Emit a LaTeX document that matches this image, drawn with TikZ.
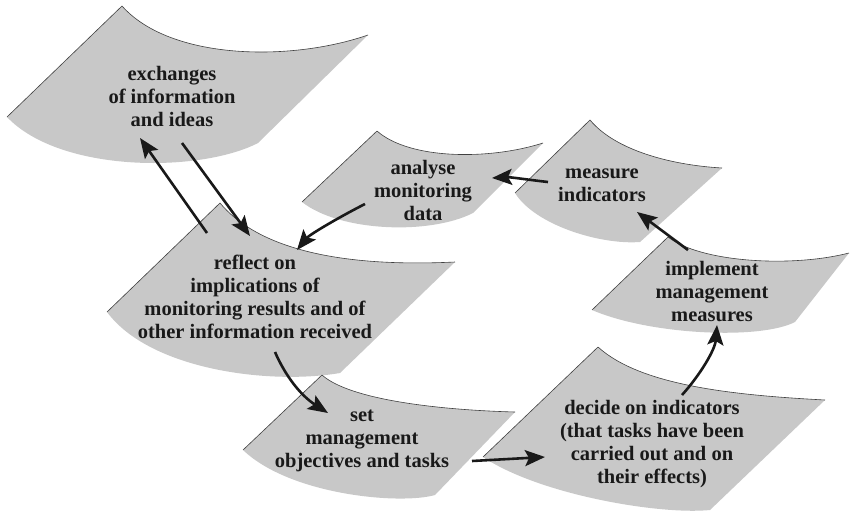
\documentclass[tikz,border=0pt]{standalone}
\usepackage{fontspec}
\setmainfont{Liberation Serif}
\usetikzlibrary{arrows.meta}
\definecolor{sheetgray}{RGB}{200,200,200}
\definecolor{inkc}{RGB}{25,25,25}
\newcommand{\papersheet}[8]{%
  \fill[sheetfill] (#1) .. controls (#2) and (#3) .. (#4) -- (#5) .. controls (#6) and (#7) .. (#8) -- cycle;
  \draw[sheetedge] (#8) -- (#1) .. controls (#2) and (#3) .. (#4);
}
\tikzset{
  sheetfill/.style={fill=sheetgray},
  sheetedge/.style={draw=black!75, line width=0.6pt, line join=round},
  label/.style={align=center, inner sep=0pt, text=inkc, font=\bfseries\fontsize{20.5}{23}\selectfont},
  flow/.style={draw=inkc, line width=2.6pt, -{Stealth[length=20pt, width=16pt, inset=4pt]}}
}
\begin{document}
\begin{tikzpicture}[x=1pt, y=-1pt]
\useasboundingbox (0,0) rectangle (851,512);
% sheets
\papersheet{122,6}{170,60}{290,62}{368,35}{258,143}{200,173}{60,173}{7,117}
\papersheet{377,131}{410,160}{490,160}{543,143}{473,213}{430,235}{340,232}{302,202}
\papersheet{590,120}{615,150}{670,165}{722,168}{640,242}{600,245}{535,225}{515,193}
\papersheet{668,237}{700,262}{790,268}{849,253}{795,322}{760,340}{650,335}{592,310}
\papersheet{220,203}{255,245}{330,268}{455,262}{340,373}{270,385}{150,370}{107,312}
\papersheet{322,375}{350,400}{440,410}{515,412}{435,495}{400,505}{290,495}{243,450}
\papersheet{598,347}{640,385}{730,395}{825,400}{710,510}{660,515}{540,495}{483,457}
% labels
\node[label] (exch) at (172,96) {exchanges\\of information\\and ideas};
\node[label] (anal) at (423,190) {analyse\\monitoring\\data};
\node[label] (meas) at (602,185) {measure\\indicators};
\node[label] (impl) at (712,292) {implement\\management\\measures};
\node[label] (refl) at (255,297) {reflect on\\implications of\\monitoring results and of\\other information received};
\node[label] (setm) at (362,441) {set\\management\\objectives and tasks};
\node[label] (deci) at (652,444) {decide on indicators\\(that tasks have been\\carried out and on\\their effects)};
% arrow ends
\coordinate (r2e-s) at (207,233); \coordinate (r2e-t) at (140,138);
\coordinate (e2r-s) at (182,143); \coordinate (e2r-t) at (250,236);
\coordinate (a2r-s) at (365,204); \coordinate (a2r-t) at (297,250);
\coordinate (m2a-s) at (548,182); \coordinate (m2a-t) at (492,178);
\coordinate (i2m-s) at (688,250); \coordinate (i2m-t) at (637,212);
\coordinate (d2i-s) at (682,395); \coordinate (d2i-t) at (717,325);
\coordinate (s2d-s) at (472,461); \coordinate (s2d-t) at (545,457);
\coordinate (r2s-s) at (275,352); \coordinate (r2s-t) at (328,413);
% connectors
\draw[flow] (r2e-s) -- (r2e-t);
\draw[flow] (e2r-s) -- (e2r-t);
\draw[flow] (a2r-s) .. controls (345,214) and (310,234) .. (a2r-t);
\draw[flow] (m2a-s) .. controls (530,180) and (510,177) .. (m2a-t);
\draw[flow] (i2m-s) -- (i2m-t);
\draw[flow] (d2i-s) .. controls (700,375) and (715,350) .. (d2i-t);
\draw[flow] (s2d-s) -- (s2d-t);
\draw[flow] (r2s-s) .. controls (285,375) and (300,395) .. (r2s-t);
\end{tikzpicture}
\end{document}
